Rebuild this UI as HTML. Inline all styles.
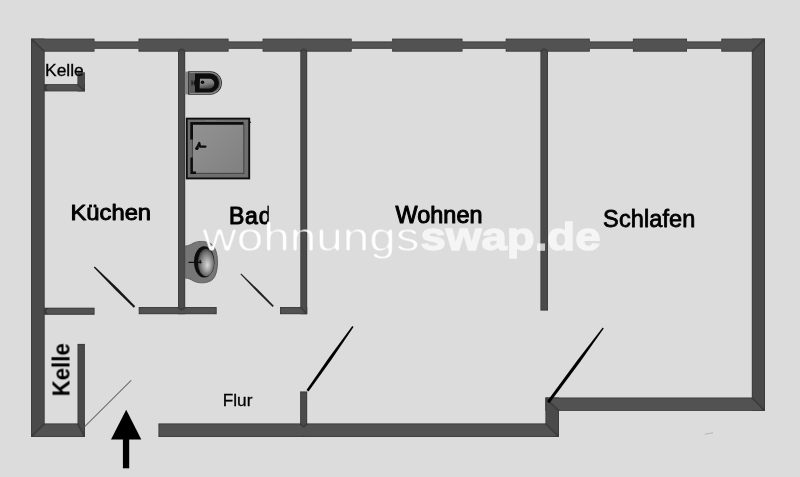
<!DOCTYPE html>
<html lang="de">
<head>
<meta charset="utf-8">
<title>Grundriss</title>
<style>
html,body{margin:0;padding:0;width:800px;height:477px;overflow:hidden;background:#dcdcdc}
svg{display:block;position:absolute;left:0;top:0}
text{font-family:"Liberation Sans",Arial,sans-serif}
</style>
</head>
<body>
<svg width="800" height="477" viewBox="0 0 800 477">
<defs>
<radialGradient id="sinkg" cx="0.52" cy="0.52" r="0.58" fx="0.6" fy="0.6">
<stop offset="0" stop-color="#d8d8d8"/>
<stop offset="0.4" stop-color="#a2a2a2"/>
<stop offset="0.75" stop-color="#6a6a6a"/>
<stop offset="1" stop-color="#262626"/>
</radialGradient>
<linearGradient id="wcg" x1="0" y1="0" x2="0.3" y2="1">
<stop offset="0" stop-color="#9c9c9c"/>
<stop offset="0.6" stop-color="#808080"/>
<stop offset="1" stop-color="#4c4c4c"/>
</linearGradient>
<linearGradient id="shg" x1="0" y1="0" x2="1" y2="1">
<stop offset="0" stop-color="#929292"/>
<stop offset="1" stop-color="#808080"/>
</linearGradient>
<clipPath id="badclip"><rect x="220" y="195" width="48.7" height="40"/></clipPath>
<filter id="wallH" x="-2%" y="-2%" width="104%" height="104%" color-interpolation-filters="sRGB">
<feGaussianBlur in="SourceAlpha" stdDeviation="0.8" result="b"/>
<feComponentTransfer in="b" result="inner"><feFuncA type="linear" slope="3.2" intercept="-1.9"/></feComponentTransfer>
<feFlood flood-color="#525252"/>
<feComposite operator="in" in2="inner"/>
</filter>
<filter id="wallV" x="-2%" y="-2%" width="104%" height="104%" color-interpolation-filters="sRGB">
<feGaussianBlur in="SourceAlpha" stdDeviation="0.8" result="b"/>
<feComponentTransfer in="b" result="inner"><feFuncA type="linear" slope="3.2" intercept="-1.9"/></feComponentTransfer>
<feFlood flood-color="#4a4a4a"/>
<feComposite operator="in" in2="inner"/>
</filter>
<filter id="thin" x="-5%" y="-20%" width="110%" height="140%" color-interpolation-filters="sRGB">
<feGaussianBlur in="SourceAlpha" stdDeviation="1.1"/>
<feComponentTransfer result="t"><feFuncA type="linear" slope="2.6" intercept="-1.2"/></feComponentTransfer>
<feFlood flood-color="#ffffff" flood-opacity="0.97"/>
<feComposite operator="in" in2="t"/>
<feGaussianBlur stdDeviation="0.3"/>
</filter>
<filter id="soft2" x="-5%" y="-5%" width="110%" height="110%">
<feGaussianBlur stdDeviation="0.35"/>
</filter>
<filter id="soft" x="-5%" y="-5%" width="110%" height="110%">
<feGaussianBlur stdDeviation="0.45"/>
</filter>
</defs>
<rect width="800" height="477" fill="#dcdcdc"/>

<g id="walls">
<g fill="#3a3a3a" filter="url(#soft)">
<rect x="90" y="41.4" width="640" height="7.4"/>
<rect x="31" y="38.6" width="63.5" height="13.1"/>
<rect x="138.5" y="38.6" width="90.1" height="13.1"/>
<rect x="262.6" y="38.6" width="89.1" height="13.1"/>
<rect x="392.1" y="38.6" width="70.4" height="13.1"/>
<rect x="505.7" y="38.6" width="84.1" height="13.1"/>
<rect x="632.9" y="38.6" width="54.1" height="13.1"/>
<rect x="721.3" y="38.6" width="43.7" height="13.1"/>
<rect x="31" y="38.6" width="13.7" height="398.4"/>
<rect x="751.8" y="38.6" width="13.2" height="372.3"/>
<rect x="545.4" y="397.5" width="219.6" height="13.4"/>
<rect x="545.4" y="397.5" width="13.6" height="39.5"/>
<rect x="158.4" y="423.4" width="400.6" height="13.6"/>
<rect x="31" y="423.4" width="53.9" height="13.6"/>
<rect x="77.5" y="343.9" width="7.4" height="93.1"/>
<rect x="44" y="84.1" width="40.9" height="7.3"/>
<rect x="77.4" y="72.3" width="7.5" height="19.1"/>
<rect x="178" y="50" width="7.2" height="264.2"/>
<rect x="300.3" y="50" width="6.9" height="264.2"/>
<rect x="540.4" y="50" width="7.6" height="260.6"/>
<rect x="300.1" y="391.4" width="7.1" height="33.6"/>
<rect x="44" y="307.7" width="50.6" height="7.1"/>
<rect x="138.7" y="307" width="78" height="7.2"/>
<rect x="280" y="307" width="27.2" height="7.2"/>
</g>
<g fill="#000" filter="url(#wallH)">
<rect x="90" y="41.4" width="640" height="7.4"/>
<polygon points="31,38.6 94.5,38.6 94.5,51.7 44.7,51.7"/>
<polygon points="138.5,38.6 181.6,38.6 181.6,48.4 178,51.7 138.5,51.7"/>
<polygon points="181.6,38.6 228.6,38.6 228.6,51.7 185.2,51.7 181.6,48.4"/>
<polygon points="262.6,38.6 303.7,38.6 303.7,48.4 300.3,51.7 262.6,51.7"/>
<polygon points="303.7,38.6 351.7,38.6 351.7,51.7 307.2,51.7 303.7,48.4"/>
<rect x="392.1" y="38.6" width="70.4" height="13.1"/>
<polygon points="505.7,38.6 544.2,38.6 544.2,48.4 540.4,51.7 505.7,51.7"/>
<polygon points="544.2,38.6 589.8,38.6 589.8,51.7 548,51.7 544.2,48.4"/>
<rect x="632.9" y="38.6" width="54.1" height="13.1"/>
<polygon points="721.3,38.6 765,38.6 751.8,51.7 721.3,51.7"/>
<polygon points="545.4,397.5 751.8,397.5 765,410.9 559,410.9"/>
<polygon points="158.4,423.4 300.1,423.4 303.6,427.2 303.6,437 158.4,437"/>
<polygon points="307.2,423.4 545.4,423.4 559,437 303.6,437 303.6,427.2"/>
<polygon points="44.7,423.4 77.5,423.4 84.9,437 31,437"/>
<polygon points="47.5,84.1 77.4,84.1 84.9,91.4 47.5,91.4 44.7,87.7"/>
<polygon points="47.5,307.7 94.6,307.7 94.6,314.8 47.5,314.8 44.7,311.2"/>
<polygon points="138.7,307 178,307 181.6,310.6 185.2,307 216.7,307 216.7,314.2 138.7,314.2"/>
<polygon points="280,307 300.3,307 307.2,314.2 280,314.2"/>
</g>
<g fill="#000" filter="url(#wallV)">
<polygon points="31,38.6 44.7,51.7 44.7,87.7 31,87.7"/>
<polygon points="31,87.7 44.7,87.7 44.7,311.2 31,311.2"/>
<polygon points="31,311.2 44.7,311.2 44.7,423.4 31,437"/>
<polygon points="765,38.6 765,410.9 751.8,397.5 751.8,51.7"/>
<polygon points="545.4,397.5 559,410.9 559,437 545.4,423.4"/>
<polygon points="77.5,343.9 84.9,343.9 84.9,437 77.5,423.4"/>
<polygon points="77.4,72.3 84.9,72.3 84.9,91.4 77.4,84.1"/>
<polygon points="178,51.7 181.6,48.4 185.2,51.7 185.2,307 181.6,310.6 178,307"/>
<polygon points="300.3,51.7 303.7,48.4 307.2,51.7 307.2,314.2 300.3,307"/>
<polygon points="540.4,51.7 544.2,48.4 548,51.7 548,310.6 540.4,310.6"/>
<polygon points="300.1,391.4 307.2,391.4 307.2,423.4 303.6,427.2 300.1,423.4"/>
</g>
</g>

<g id="winlines" stroke="#5a5a5a" stroke-width="0.7" fill="none" filter="url(#soft2)">
<path d="M95.5,44.3 H137.5 M95.5,46.2 H137.5"/>
<path d="M229.6,44.3 H261.6 M229.6,46.2 H261.6"/>
<path d="M352.7,44.3 H391.1 M352.7,46.2 H391.1"/>
<path d="M463.5,44.3 H504.7 M463.5,46.2 H504.7"/>
<path d="M590.8,44.3 H631.9 M590.8,46.2 H631.9"/>
<path d="M688,44.3 H720.3 M688,46.2 H720.3"/>
</g>
<path d="M704.8,434.2 L713,432.8" stroke="#b4b4b4" stroke-width="1" fill="none" filter="url(#soft2)"/>



<g id="doors" filter="url(#soft2)">
<polygon points="135.2,306.3 117.4,288.0 94.8,266.5 93.8,267.5 115.5,290.0 133.8,307.7" fill="#181818"/>
<polygon points="273.8,305.8 259.4,291.0 241.2,273.4 240.4,274.2 257.8,292.5 272.6,307.0" fill="#242424"/>
<polygon points="308.5,391.5 331.5,359.6 353.5,326.9 352.3,326.1 328.9,357.7 306.5,390.1" fill="#050505"/>
<polygon points="549.4,403.3 579.7,362.4 603.7,328.4 602.7,327.6 577.2,360.6 547.0,401.5" fill="#050505"/>
<line x1="84.9" y1="426.4" x2="130.9" y2="380.7" stroke="#707070" stroke-width="1.1" stroke-linecap="round"/>
</g>

<g id="arrow" fill="#000">
<polygon points="126.2,409.8 141.3,439.5 111,439.5"/>
<rect x="122.9" y="438" width="6.3" height="30.3"/>
</g>

<g id="toilet" filter="url(#soft)">
<rect x="184.8" y="71.6" width="4" height="22.8" fill="#868686"/>
<path d="M188.2,71.2 H210.2 A11.75,11.75 0 0 1 210.2,94.7 H188.2 Z" fill="#262626"/>
<path d="M189.3,72 H210.2 A10.95,10.95 0 0 1 210.2,93.9 H189.3 Z" fill="#8a8a8a"/>
<path d="M189.3,72.9 H210.2 A10.05,10.05 0 0 1 210.2,93 H189.3 Z" fill="#5a5a5a"/>
<path d="M195,73.5 H209.6 A9.4,9.4 0 0 1 209.6,92.3 H195 Z" fill="#0e0e0e"/>
<path d="M200,78.7 H209.4 A4.9,4.9 0 0 1 209.4,88.5 H199.6 Z" fill="url(#wcg)"/>
<circle cx="202.5" cy="82.3" r="1.8" fill="#0e0e0e"/>
<path d="M192,80.3 V85.7 M194.4,80.3 V85.7 M192,83 H196" stroke="#111" stroke-width="0.9" fill="none"/>
</g>

<g id="shower" filter="url(#soft)">
<rect x="186.8" y="118.6" width="62.4" height="59.8" fill="#6e6e6e" stroke="#111" stroke-width="1.9"/>
<rect x="192.4" y="124.4" width="51.4" height="49" fill="url(#shg)" stroke="#4a4a4a" stroke-width="1.2"/>
<path d="M191.6,139.5 V123.2 H243.5" fill="none" stroke="#0c0c0c" stroke-width="2.6"/>
<path d="M191.6,157.5 V172.8 H196" fill="none" stroke="#0c0c0c" stroke-width="2.4"/>
<path d="M196.5,148.8 L199.3,143 L200,146.6 H205.5" fill="none" stroke="#0c0c0c" stroke-width="2.2" stroke-linejoin="round" stroke-linecap="round"/>
<circle cx="197" cy="148.3" r="1.7" fill="#0c0c0c"/>
<circle cx="250.3" cy="122.3" r="0.8" fill="#1a1a1a"/>
<path d="M206,120.6 H216" stroke="#8a8a8a" stroke-width="0.8" stroke-dasharray="1.6 1" fill="none"/>
</g>

<g id="sink" filter="url(#soft)">
<path d="M185.2,246 C188.5,246 190.5,244.6 193.5,243 C198.5,240.6 207,240.8 212,244.5 C219.4,250 219.4,274.5 212,280 C207,283.6 198.5,283.6 193.5,281 C190.5,279.4 188.5,278 185.2,278 Z" fill="#767676" stroke="#5c5c5c" stroke-width="0.9"/>
<ellipse cx="204.2" cy="261.9" rx="10.2" ry="15.6" fill="#0c0c0c"/>
<ellipse cx="206" cy="262.6" rx="8.2" ry="13.8" fill="url(#sinkg)"/>
<path d="M189,262.3 H201.2 M200.2,260.4 V263" stroke="#0c0c0c" stroke-width="1.3" fill="none" stroke-linecap="round"/>
</g>

<g id="labels" fill="#000" stroke="#000" stroke-linejoin="round" filter="url(#soft2)">
<text x="45" y="76.3" font-size="17.3" textLength="38.8" lengthAdjust="spacingAndGlyphs" stroke-width="0.35">Kelle</text>
<text x="70.5" y="219.7" font-size="22.4" textLength="80.6" lengthAdjust="spacingAndGlyphs" stroke-width="0.95">Küchen</text>
<g clip-path="url(#badclip)"><text x="228.9" y="223.7" font-size="23" textLength="42.6" lengthAdjust="spacing" stroke-width="1.05">Bad</text></g>
<text x="395.5" y="222.9" font-size="23.4" textLength="87" lengthAdjust="spacing" stroke-width="1">Wohnen</text>
<text x="603.1" y="227" font-size="23.5" textLength="92.2" lengthAdjust="spacing" stroke-width="0.8">Schlafen</text>
<text x="222.8" y="406.3" font-size="17" textLength="29.6" lengthAdjust="spacingAndGlyphs" stroke-width="0.3">Flur</text>
<text transform="translate(69.5,396.3) rotate(-90)" font-size="24.8" font-weight="bold" textLength="53" lengthAdjust="spacingAndGlyphs" stroke="none">Kelle</text>
</g>

<g id="watermark" fill="#fff">
<text x="202.2" y="250.6" font-size="40" textLength="217.5" lengthAdjust="spacingAndGlyphs" filter="url(#thin)">wohnungs</text>
<text x="420.6" y="250.2" font-size="39.5" font-weight="bold" textLength="180" lengthAdjust="spacingAndGlyphs" stroke="#fff" stroke-width="1.3" opacity="0.7" filter="url(#soft2)">swap.de</text>
</g>
</svg>
</body>
</html>
